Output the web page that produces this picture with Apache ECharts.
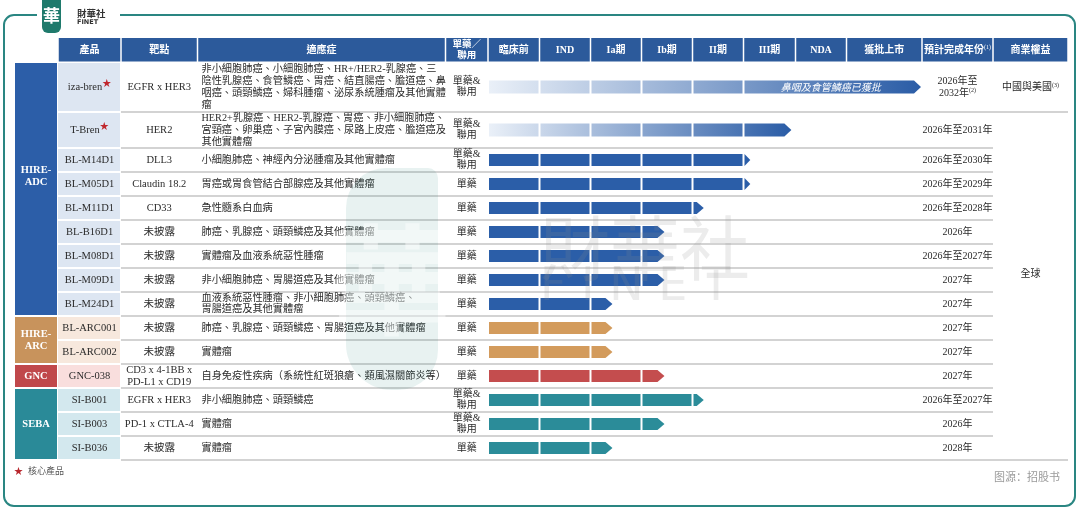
<!DOCTYPE html>
<html>
<head>
<meta charset="utf-8">
<script src="https://cdn.jsdelivr.net/npm/echarts@6/dist/echarts.min.js"></script>
<style>
  html, body { margin: 0; padding: 0; background: #fff; }
  #main { width: 1080px; height: 522px; }
</style>
</head>
<body>
<div id="main"></div>
<script>
// ---- data ----
const headers = ['產品', '靶點', '適應症', '單藥／\n聯用', '臨床前', 'IND', 'Ia期', 'Ib期', 'II期', 'III期', 'NDA', '獲批上市', '預計完成年份{s|(1)}', '商業權益'];
const platforms = ['HIRE-\nADC', 'HIRE-\nARC', 'GNC', 'SEBA'];
const platformRows = [9, 2, 1, 3];
const products = ['iza-bren', 'T-Bren', 'BL-M14D1', 'BL-M05D1', 'BL-M11D1', 'BL-B16D1', 'BL-M08D1', 'BL-M09D1', 'BL-M24D1',
  'BL-ARC001', 'BL-ARC002', 'GNC-038', 'SI-B001', 'SI-B003', 'SI-B036'];
const coreProducts = ['iza-bren', 'T-Bren'];
const targets = ['EGFR x HER3', 'HER2', 'DLL3', 'Claudin 18.2', 'CD33', '未披露', '未披露', '未披露', '未披露',
  '未披露', '未披露', 'CD3 x 4-1BB x\nPD-L1 x CD19', 'EGFR x HER3', 'PD-1 x CTLA-4', '未披露'];
const indications = [
  '非小細胞肺癌、小細胞肺癌、HR+/HER2-乳腺癌、三\n陰性乳腺癌、食管鱗癌、胃癌、結直腸癌、膽道癌、鼻\n咽癌、頭頸鱗癌、婦科腫瘤、泌尿系統腫瘤及其他實體\n瘤',
  'HER2+乳腺癌、HER2-乳腺癌、胃癌、非小細胞肺癌、\n宮頸癌、卵巢癌、子宮內膜癌、尿路上皮癌、膽道癌及\n其他實體瘤',
  '小細胞肺癌、神經內分泌腫瘤及其他實體瘤',
  '胃癌或胃食管結合部腺癌及其他實體瘤',
  '急性髓系白血病',
  '肺癌、乳腺癌、頭頸鱗癌及其他實體瘤',
  '實體瘤及血液系統惡性腫瘤',
  '非小細胞肺癌、胃腸道癌及其他實體瘤',
  '血液系統惡性腫瘤、非小細胞肺癌、頭頸鱗癌、\n胃腸道癌及其他實體瘤',
  '肺癌、乳腺癌、頭頸鱗癌、胃腸道癌及其他實體瘤',
  '實體瘤',
  '自身免疫性疾病（系統性紅斑狼瘡、類風濕關節炎等）',
  '非小細胞肺癌、頭頸鱗癌',
  '實體瘤',
  '實體瘤'
];
const regimens = ['單藥&\n聯用', '單藥&\n聯用', '單藥&\n聯用', '單藥', '單藥', '單藥', '單藥', '單藥', '單藥',
  '單藥', '單藥', '單藥', '單藥&\n聯用', '單藥&\n聯用', '單藥'];
// progress in stage units (0 = start of 臨床前, 8 = end of 獲批上市)
const progress = [8, 5.94, 5.15, 5.15, 4.24, 3.47, 3.47, 3.47, 2.45, 2.45, 2.45, 3.47, 4.24, 3.47, 2.45];
const barNotes = ['鼻咽及食管鱗癌已獲批', '', '', '', '', '', '', '', '', '', '', '', '', '', ''];
const completion = ['2026年至\n2032年{s|(2)}', '2026年至2031年', '2026年至2030年', '2026年至2029年', '2026年至2028年',
  '2026年', '2026年至2027年', '2027年', '2027年', '2027年', '2027年', '2027年', '2026年至2027年', '2026年', '2028年'];
const rights = ['中國與美國{s|(3)}', '全球'];

// ---- layout ----
const colEdges = [15, 58, 121, 197.5, 445.5, 488, 539.5, 590.5, 641.5, 692.5, 743.5, 795.5, 846.5, 922, 993, 1068];
const stageEdges = colEdges.slice(5, 14);
const headerTop = 38, headerBottom = 62;
const rowHeights = [50, 36, 24, 24, 24, 24, 24, 24, 24, 24, 24, 24, 24, 24, 24];
const rowEdges = rowHeights.reduce((a, h) => { a.push(a[a.length - 1] + h); return a; }, [headerBottom]);
const noteFromStage = 5;

const HEADER = '#2c5a9b';
const platformColors = ['#2c5ea8', '#c8935c', '#c0484b', '#2a8a98'];
const barColors = ['#2b5ea8', '#d39b5c', '#c44d4e', '#2b8c99'];
const cellColors = ['#dde6f2', '#f7e8dd', '#f9dedd', '#d3e8ee'];
const SERIF = "'Liberation Serif','Noto Sans CJK TC',serif";
const SANS = "'Noto Sans CJK SC','Noto Sans',sans-serif";
const INK = '#2a2a2a';

const rowPlatform = [];
platformRows.forEach((n, p) => { for (let k = 0; k < n; k++) rowPlatform.push(p); });

function rect(api, x0, y0, x1, y1, style) {
  const a = api.coord([x0, y0]), b = api.coord([x1, y1]);
  return { type: 'rect', shape: { x: a[0], y: a[1], width: b[0] - a[0], height: b[1] - a[1] }, style: style };
}
function text(api, x, y, style) {
  const p = api.coord([x, y]);
  return { type: 'text', style: Object.assign({ x: p[0], y: p[1], align: 'center', verticalAlign: 'middle' }, style) };
}
function sup(fill) {
  return { s: { fontSize: 6, fontFamily: SERIF, fill: fill, color: fill, verticalAlign: 'top', padding: [0, 0, 4, 0] } };
}
function stageX(p) {
  const k = Math.min(Math.floor(p), stageEdges.length - 2);
  return stageEdges[k] + (p - k) * (stageEdges[k + 1] - stageEdges[k]);
}

const chart = echarts.init(document.getElementById('main'));

const option = {
  animation: false,
  grid: { left: 0, right: 0, top: 0, bottom: 0 },
  xAxis: { type: 'value', min: 0, max: 1080, show: false },
  yAxis: { type: 'value', min: 0, max: 522, inverse: true, show: false },
  series: [
    {
      // header row
      type: 'custom', clip: false, z: 3,
      data: headers.map((h, i) => [i]),
      renderItem: function (params, api) {
        const i = params.dataIndex, c = i + 1;
        const x0 = colEdges[c] + 0.75, x1 = colEdges[c + 1] - 0.75;
        return {
          type: 'group', children: [
            rect(api, x0, headerTop, x1, headerBottom - 0.5, { fill: HEADER }),
            text(api, (x0 + x1) / 2, (headerTop + headerBottom) / 2, {
              text: headers[i], fill: '#fff', fontSize: i === 3 ? 9.5 : 10, fontFamily: SERIF, fontWeight: 'bold',
              lineHeight: 10.5, rich: sup('#fff')
            })
          ]
        };
      }
    },
    {
      // platform column
      type: 'custom', clip: false, z: 3,
      data: platforms.map((p, i) => [i]),
      renderItem: function (params, api) {
        const i = params.dataIndex;
        const start = platformRows.slice(0, i).reduce((a, b) => a + b, 0);
        const y0 = rowEdges[start] + 1, y1 = rowEdges[start + platformRows[i]] - 1;
        return {
          type: 'group', children: [
            rect(api, colEdges[0], y0, colEdges[1] - 1, y1, { fill: platformColors[i] }),
            text(api, (colEdges[0] + colEdges[1] - 1) / 2, (y0 + y1) / 2 - (i === 0 ? 13 : 0), {
              text: platforms[i], fill: '#fff', fontSize: 10.5, fontFamily: SERIF, fontWeight: 'bold', lineHeight: 12
            })
          ]
        };
      }
    },
    {
      // table rows
      type: 'custom', clip: false, z: 2,
      data: products.map((p, i) => [i]),
      renderItem: function (params, api) {
        const i = params.dataIndex, pf = rowPlatform[i];
        const y0 = rowEdges[i], y1 = rowEdges[i + 1], ym = (y0 + y1) / 2;
        const isCore = coreProducts.indexOf(products[i]) >= 0;
        const lineEnd = (i === 0 || i === products.length - 1) ? colEdges[15] : colEdges[14];
        const lp0 = api.coord([colEdges[2], y1]), lp1 = api.coord([lineEnd, y1]);
        const kids = [
          rect(api, colEdges[1], y0 + 1, colEdges[2] - 1, y1 - 1, { fill: cellColors[pf] }),
          { type: 'line', shape: { x1: lp0[0], y1: lp0[1], x2: lp1[0], y2: lp1[1] }, style: { stroke: '#c4c4c4', lineWidth: 1.5 } },
          text(api, (colEdges[1] + colEdges[2]) / 2, ym, {
            text: products[i] + (isCore ? '{st|★}' : ''), fill: INK, fontSize: 10.5, fontFamily: SERIF,
            rich: { st: { fontSize: 9, fontFamily: SANS, fill: '#c0272d', color: '#c0272d', verticalAlign: 'top', padding: [0, 0, 8, 0] } }
          }),
          text(api, (colEdges[2] + colEdges[3]) / 2, ym, {
            text: targets[i], fill: INK, fontSize: 10.5, fontFamily: SERIF, lineHeight: 11.5
          }),
          text(api, colEdges[3] + 4, ym, {
            text: indications[i], fill: INK, fontSize: 10.2, fontFamily: SERIF, align: 'left', lineHeight: i < 2 ? 12 : 11.5
          }),
          text(api, (colEdges[4] + colEdges[5]) / 2, ym, {
            text: regimens[i], fill: INK, fontSize: 10, fontFamily: SERIF, lineHeight: 11
          }),
          text(api, (colEdges[13] + colEdges[14]) / 2, ym, {
            text: completion[i], fill: INK, fontSize: 10, fontFamily: SERIF, lineHeight: 12, rich: sup(INK)
          })
        ];
        if (i === 0) {
          kids.push(text(api, (colEdges[14] + colEdges[15]) / 2, ym, {
            text: rights[0], fill: INK, fontSize: 10, fontFamily: SERIF, rich: sup(INK)
          }));
        }
        if (i === 1) {
          kids.push(text(api, (colEdges[14] + colEdges[15]) / 2, (rowEdges[1] + rowEdges[14]) / 2, {
            text: rights[1], fill: INK, fontSize: 10, fontFamily: SERIF
          }));
        }
        return { type: 'group', children: kids };
      }
    },
    {
      // progress bars
      type: 'custom', clip: false, z: 4,
      data: progress.map((p, i) => [i, p]),
      renderItem: function (params, api) {
        const i = params.dataIndex, p = api.value(1);
        const ym = (rowEdges[i] + rowEdges[i + 1]) / 2;
        const h = rowHeights[i] > 24 ? 13 : 12;
        const isCore = coreProducts.indexOf(products[i]) >= 0;
        const endX = stageX(p) - 1;
        const a = api.coord([stageEdges[0] + 1, ym]), e = api.coord([endX, ym]);
        const fill = isCore
          ? new echarts.graphic.LinearGradient(a[0], 0, e[0], 0, [
              { offset: 0, color: '#eaf0f8' }, { offset: 1, color: '#2a5ca6' }], true)
          : barColors[rowPlatform[i]];
        const n = Math.ceil(p - 1e-9);
        const segs = [];
        for (let k = 0; k < n; k++) {
          if (barNotes[i] && k > noteFromStage) break;
          const last = (k === n - 1) || (barNotes[i] && k === noteFromStage);
          segs.push([stageEdges[k] + 1, last ? endX : stageEdges[k + 1] - 1, last]);
        }
        const kids = segs.map(s => {
          const p0 = api.coord([s[0], ym - h / 2]), p1 = api.coord([s[1], ym + h / 2]);
          const tip = 7, top = p0[1], bot = p1[1], mid = (top + bot) / 2;
          let pts;
          if (s[2]) {
            const bx = Math.max(p0[0], p1[0] - tip);
            pts = [[p0[0], top], [bx, top], [p1[0], mid], [bx, bot], [p0[0], bot]];
          } else {
            pts = [[p0[0], top], [p1[0], top], [p1[0], bot], [p0[0], bot]];
          }
          return { type: 'polygon', shape: { points: pts }, style: { fill: fill } };
        });
        if (barNotes[i]) {
          const s = segs[segs.length - 1];
          kids.push(text(api, (s[0] + s[1]) / 2 - 2, ym, {
            text: barNotes[i], fill: '#fff', fontSize: 10, fontFamily: SANS, fontStyle: 'italic'
          }));
        }
        return { type: 'group', children: kids };
      }
    }
  ],
  graphic: [
    // frame
    { type: 'rect', z: 0, shape: { x: 4, y: 15, width: 1071, height: 491, r: 10 }, style: { fill: 'none', stroke: '#2a8682', lineWidth: 2 } },
    { type: 'rect', z: 1, shape: { x: 37, y: 6, width: 83, height: 16 }, style: { fill: '#fff' } },
    // logo
    { type: 'rect', z: 2, shape: { x: 42, y: 0, width: 19, height: 33, r: [0, 0, 6, 6] }, style: { fill: '#1f7a6c' } },
    { type: 'text', z: 3, style: { x: 51.5, y: 16, text: '華', fill: '#fff', fontSize: 17, fontFamily: SANS, fontWeight: 'bold', align: 'center', verticalAlign: 'middle' } },
    { type: 'text', z: 3, style: { x: 77, y: 13, text: '財華社', fill: '#333', fontSize: 9.5, fontFamily: SANS, fontWeight: 'bold', verticalAlign: 'middle' } },
    { type: 'text', z: 3, style: { x: 77, y: 22.5, text: 'FINET', fill: '#333', fontSize: 6.5, fontFamily: 'DejaVu Sans', fontWeight: 'bold', verticalAlign: 'middle' } },
    // watermark
    { type: 'rect', z: 10, silent: true, shape: { x: 346, y: 168, width: 92, height: 222, r: [40, 10, 40, 46] }, style: { fill: 'rgba(42,140,128,0.11)' } },
    { type: 'text', z: 11, silent: true, style: { x: 392, y: 280, text: '華', fill: 'rgba(255,255,255,0.45)', fontSize: 120, fontFamily: SANS, fontWeight: 'bold', align: 'center', verticalAlign: 'middle' } },
    { type: 'text', z: 10, silent: true, style: { x: 540, y: 248, text: '財華社', fill: 'rgba(140,140,140,0.17)', fontSize: 70, fontFamily: SANS, verticalAlign: 'middle' } },
    { type: 'text', z: 10, silent: true, style: { x: 540, y: 288, text: 'F I N E T', fill: 'rgba(140,140,140,0.17)', fontSize: 46, fontFamily: 'DejaVu Sans', verticalAlign: 'middle' } },
    // footnotes
    { type: 'text', z: 3, style: { x: 14, y: 471, text: '★', fill: '#b8262c', fontSize: 9, fontFamily: SANS, verticalAlign: 'middle' } },
    { type: 'text', z: 3, style: { x: 28, y: 471, text: '核心產品', fill: '#555', fontSize: 9, fontFamily: SANS, verticalAlign: 'middle' } },
    { type: 'text', z: 3, style: { x: 1060, y: 477, text: '图源：招股书', fill: '#9a9a9a', fontSize: 11, fontFamily: SANS, align: 'right', verticalAlign: 'middle' } }
  ]
};

chart.setOption(option);
</script>
</body>
</html>
